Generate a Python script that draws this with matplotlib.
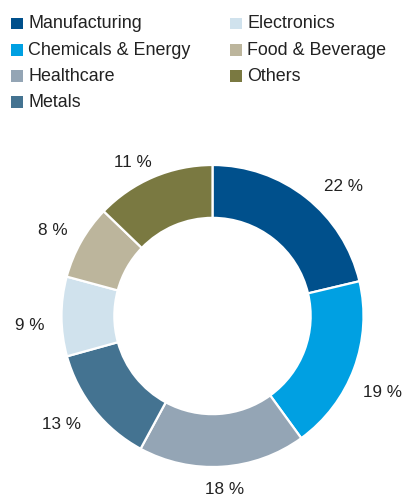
import matplotlib
matplotlib.use("Agg")
import numpy as np
import matplotlib.pyplot as plt
from matplotlib.patches import Rectangle

categories = ["Manufacturing", "Chemicals & Energy", "Healthcare", "Metals",
              "Electronics", "Food & Beverage", "Others"]
# wedge shares as drawn in the reference (measured from the ring)
values = [21.3, 18.7, 17.9, 12.8, 8.5, 8.0, 12.8]
labels = ["22 %", "19 %", "18 %", "13 %", "9 %", "8 %", "11 %"]
colors = ["#00508c", "#00a0e2", "#94a5b5", "#447391", "#d0e2ed", "#bcb59c", "#7a7941"]
legend_order = ["Manufacturing", "Electronics", "Chemicals & Energy", "Food & Beverage",
                "Healthcare", "Others", "Metals"]

# label layout (angle nudge in degrees, radial distance factor)
label_nudge = [-6.6, -3.3, 0.4, -3.2, 2.1, 0.9, 4.0]
label_dist = [1.225, 1.232, 1.139, 1.225, 1.212, 1.205, 1.159]

plt.rcParams['font.family'] = ["Liberation Sans", "DejaVu Sans"]
fs_leg, fs_lab = 12.9, 12.3

W, H = 404, 496
fig = plt.figure(figsize=(W / 100, H / 100), dpi=100)
ax = fig.add_axes([0, 0, 1, 1])

cx, cy, R = 212.5, H - 316, 151
wedges, _ = ax.pie(values, colors=colors, startangle=90, counterclock=False,
                   center=(cx, cy), radius=R,
                   wedgeprops=dict(width=R * 0.35, edgecolor='white', linewidth=1.6),
                   frame=True)
ax.set_xlim(0, W)
ax.set_ylim(0, H)
ax.set_aspect('equal')
ax.axis('off')

cap = 6.4
for w, lab, dn, df in zip(wedges, labels, label_nudge, label_dist):
    th = np.deg2rad((w.theta1 + w.theta2) / 2 + dn)
    x = cx + df * R * np.cos(th)
    y = cy + df * R * np.sin(th)
    ax.text(x, y - cap, lab, fontsize=fs_lab, color='#222222', ha='center', va='baseline')

# legend
col_x = [11, 230]
row_base = [28.3, 55, 81, 107]
for i, name in enumerate(legend_order):
    c = colors[categories.index(name)]
    col = i % 2
    row = i // 2
    x = col_x[col]
    yb = H - row_base[row]
    ax.add_patch(Rectangle((x, yb - 0.7), 11.5, 11.5, facecolor=c, edgecolor='none'))
    ax.text(x + 17.3, yb, name, fontsize=fs_leg, color='#222222', va='baseline', ha='left')

fig.savefig("out.png", dpi=100)
